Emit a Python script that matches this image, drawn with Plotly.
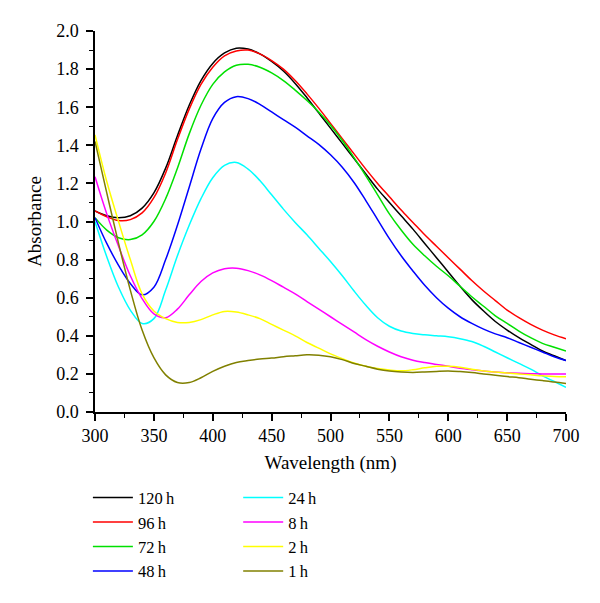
import plotly.graph_objects as go

wavelength = [300, 310, 320, 330, 340, 350, 360, 370, 380, 390, 400, 410, 420, 430, 440, 450,
              460, 470, 480, 490, 500, 510, 520, 530, 540, 550, 560, 570, 580, 590, 600,
              610, 620, 630, 640, 650, 660, 670, 680, 690, 700]

abs_120h = [1.055, 1.03, 1.02, 1.03, 1.07, 1.15, 1.28, 1.45, 1.61, 1.74, 1.83, 1.885, 1.91, 1.905, 1.88, 1.84,
            1.79, 1.725, 1.65, 1.57, 1.49, 1.41, 1.33, 1.25, 1.17, 1.10, 1.03, 0.96, 0.885, 0.81, 0.735,
            0.66, 0.59, 0.53, 0.475, 0.43, 0.39, 0.355, 0.32, 0.295, 0.27]
abs_96h = [1.055, 1.025, 1.005, 1.01, 1.045, 1.125, 1.255, 1.43, 1.59, 1.72, 1.81, 1.87, 1.895, 1.90, 1.88, 1.845,
           1.80, 1.74, 1.67, 1.595, 1.515, 1.435, 1.355, 1.275, 1.20, 1.13, 1.06, 0.995, 0.93, 0.87, 0.81,
           0.75, 0.69, 0.635, 0.585, 0.535, 0.495, 0.46, 0.43, 0.405, 0.385]
abs_72h = [1.02, 0.955, 0.915, 0.905, 0.93, 1.00, 1.12, 1.28, 1.46, 1.61, 1.72, 1.785, 1.82, 1.825, 1.81, 1.78,
           1.74, 1.69, 1.635, 1.575, 1.505, 1.425, 1.335, 1.24, 1.14, 1.04, 0.955, 0.88, 0.82, 0.765, 0.715,
           0.66, 0.605, 0.555, 0.505, 0.465, 0.425, 0.39, 0.36, 0.34, 0.32]
abs_48h = [1.02, 0.885, 0.77, 0.675, 0.615, 0.655, 0.80, 0.98, 1.18, 1.38, 1.54, 1.625, 1.655, 1.645, 1.615, 1.575,
           1.535, 1.495, 1.45, 1.405, 1.35, 1.285, 1.205, 1.11, 1.01, 0.91, 0.82, 0.74, 0.665, 0.60, 0.545,
           0.50, 0.465, 0.435, 0.41, 0.39, 0.365, 0.34, 0.315, 0.29, 0.27]
abs_24h = [1.00, 0.815, 0.655, 0.535, 0.465, 0.49, 0.64, 0.82, 0.98, 1.12, 1.23, 1.295, 1.31, 1.275, 1.215, 1.14,
           1.065, 0.995, 0.93, 0.86, 0.79, 0.715, 0.635, 0.56, 0.495, 0.45, 0.425, 0.412, 0.405, 0.40, 0.395,
           0.385, 0.37, 0.345, 0.315, 0.285, 0.255, 0.225, 0.19, 0.16, 0.13]
abs_8h = [1.235, 1.04, 0.87, 0.715, 0.595, 0.515, 0.495, 0.54, 0.615, 0.685, 0.73, 0.752, 0.755, 0.742, 0.72, 0.69,
          0.655, 0.62, 0.58, 0.54, 0.50, 0.46, 0.42, 0.38, 0.345, 0.315, 0.29, 0.272, 0.26, 0.25, 0.24,
          0.23, 0.222, 0.215, 0.21, 0.206, 0.203, 0.201, 0.20, 0.20, 0.20]
abs_2h = [1.455, 1.21, 1.00, 0.80, 0.62, 0.53, 0.49, 0.47, 0.47, 0.485, 0.51, 0.528, 0.525, 0.51, 0.49, 0.46,
          0.43, 0.40, 0.365, 0.335, 0.305, 0.28, 0.257, 0.24, 0.228, 0.22, 0.216, 0.222, 0.232, 0.24, 0.24,
          0.235, 0.225, 0.215, 0.21, 0.205, 0.20, 0.195, 0.19, 0.187, 0.185]
abs_1h = [1.42, 1.15, 0.885, 0.64, 0.43, 0.285, 0.195, 0.155, 0.155, 0.18, 0.213, 0.24, 0.26, 0.27, 0.278, 0.283,
          0.29, 0.295, 0.30, 0.298, 0.29, 0.275, 0.255, 0.24, 0.225, 0.215, 0.21, 0.208, 0.21, 0.213, 0.215,
          0.212, 0.207, 0.20, 0.193, 0.186, 0.18, 0.172, 0.165, 0.157, 0.15]

series = [
    ("120\u2009h", abs_120h, "#000000", "legend"),
    ("96\u2009h", abs_96h, "#ff0000", "legend"),
    ("72\u2009h", abs_72h, "#00e000", "legend"),
    ("48\u2009h", abs_48h, "#0000ff", "legend"),
    ("24\u2009h", abs_24h, "#00ffff", "legend2"),
    ("8\u2009h", abs_8h, "#ff00ff", "legend2"),
    ("2\u2009h", abs_2h, "#ffff00", "legend2"),
    ("1\u2009h", abs_1h, "#808000", "legend2"),
]

FONT = "Liberation Serif, Times New Roman, serif"

fig = go.Figure()
for name, vals, color, leg in series:
    fig.add_trace(go.Scatter(
        x=wavelength, y=vals, mode="lines", name=name,
        line=dict(color=color, width=1.5, shape="spline", smoothing=1.0),
        legend=leg,
    ))

axis_common = dict(
    showline=True, linecolor="black", linewidth=1.5,
    ticks="outside", ticklen=7, tickwidth=1.5, tickcolor="black",
    showgrid=False, zeroline=False, mirror=False,
    tickfont=dict(family=FONT, size=18, color="black"),
)

fig.update_layout(
    width=600, height=603,
    margin=dict(l=95, r=34, t=31, b=191),
    paper_bgcolor="white", plot_bgcolor="white",
    font=dict(family=FONT, size=18, color="black"),
    xaxis=dict(range=[300, 700], dtick=50, tick0=300,
               minor=dict(dtick=25, ticklen=4, tickwidth=1.2, tickcolor="black", ticks="outside"),
               title=dict(text="Wavelength (nm)", font=dict(family=FONT, size=19), standoff=10),
               **axis_common),
    yaxis=dict(range=[0, 2.0], dtick=0.2, tick0=0, tickformat=".1f", ticklabelstandoff=4,
               minor=dict(dtick=0.1, ticklen=4, tickwidth=1.2, tickcolor="black", ticks="outside"),
               title=dict(text="Absorbance", font=dict(family=FONT, size=19), standoff=10),
               **axis_common),
    legend=dict(x=-0.0151, y=-0.1795, xanchor="left", yanchor="top", orientation="v",
                font=dict(family=FONT, size=16.5), itemwidth=40, bgcolor="rgba(0,0,0,0)"),
    legend2=dict(x=0.304, y=-0.1795, xanchor="left", yanchor="top", orientation="v",
                 font=dict(family=FONT, size=16.5), itemwidth=40, bgcolor="rgba(0,0,0,0)"),
    showlegend=True,
)

fig.write_html("out.html", config={"displayModeBar": False},
               post_script="document.body.style.margin='0px';")
